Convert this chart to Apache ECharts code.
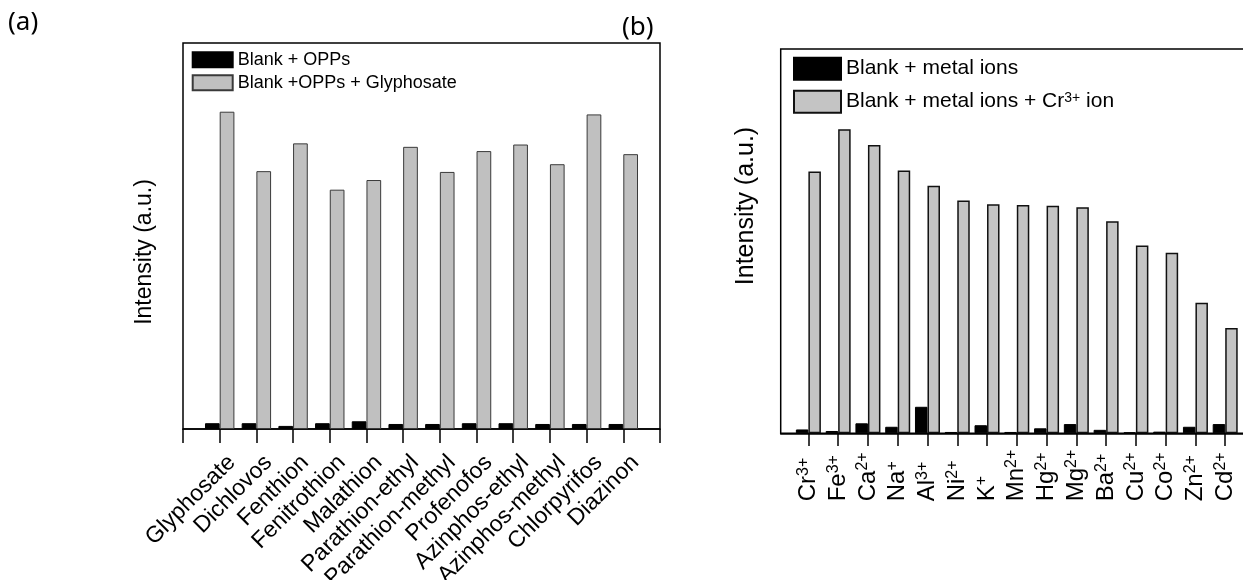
<!DOCTYPE html>
<html>
<head>
<meta charset="utf-8">
<script src="https://cdn.jsdelivr.net/npm/echarts@6/dist/echarts.min.js"></script>
<style>
  html, body { margin: 0; padding: 0; background: #fff; }
  #chart { width: 1243px; height: 580px; }
</style>
</head>
<body>
<div id="chart"></div>
<script>
// Panel (a): organophosphorus pesticides
const opsCategories = ['Glyphosate', 'Dichlovos', 'Fenthion', 'Fenitrothion', 'Malathion',
  'Parathion-ethyl', 'Parathion-methyl', 'Profenofos', 'Azinphos-ethyl', 'Azinphos-methyl',
  'Chlorpyrifos', 'Diazinon'];
const opsBlank = [1.5, 1.5, 0.8, 1.5, 2.0, 1.3, 1.3, 1.5, 1.5, 1.3, 1.3, 1.3];
const opsGlyphosate = [82.2, 66.8, 74.0, 62.0, 64.5, 73.1, 66.6, 72.0, 73.7, 68.6, 81.5, 71.2];

// Panel (b): metal ions
const ionSymbols = ['Cr', 'Fe', 'Ca', 'Na', 'Al', 'Ni', 'K', 'Mn', 'Hg', 'Mg', 'Ba', 'Cu', 'Co', 'Zn', 'Cd'];
const ionCharges = ['3+', '3+', '2+', '+', '3+', '2+', '+', '2+', '2+', '2+', '2+', '2+', '2+', '2+', '2+'];
const ionBlank = [1.0, 0.6, 2.6, 1.7, 6.9, 0.35, 2.1, 0.35, 1.3, 2.4, 0.9, 0.26, 0.43, 1.7, 2.4];
const ionCr = [68.1, 79.1, 75.0, 68.4, 64.4, 60.6, 59.6, 59.4, 59.2, 58.8, 55.2, 48.9, 47.0, 34.0, 27.4];

const legendA = ['Blank + OPPs', 'Blank +OPPs + Glyphosate'];
const legendB = ['Blank + metal ions', 'Blank + metal ions + Cr3+ ion'];

const FONT = "'Liberation Sans', Arial, sans-serif";
const idx = (n) => Array.from({ length: n }, (_, i) => i);

// Panel (a) axis has an empty slot at each end so the frame edges carry ticks.
const opsAxis = [''].concat(opsCategories, ['']);
const opsPairs = (vals) => vals.map((v, i) => [i + 1, v]);
const ionPairs = (vals) => vals.map((v, i) => [i, v]);

const chart = echarts.init(document.getElementById('chart'), null, { renderer: 'canvas' });

const option = {
  animation: false,
  backgroundColor: '#fff',
  grid: [
    { left: 183, top: 43, width: 477, height: 386, outerBoundsMode: 'none', containLabel: false,
      show: true, borderColor: '#000', borderWidth: 1.5, backgroundColor: 'transparent' },
    { left: 780.7, top: 49, width: 472.2, height: 384.3, outerBoundsMode: 'none', containLabel: false,
      show: true, borderColor: '#000', borderWidth: 1.5, backgroundColor: 'transparent' }
  ],
  xAxis: [
    {
      type: 'category', gridIndex: 0, data: opsAxis, boundaryGap: false,
      axisLine: { show: true, lineStyle: { color: '#000', width: 1.5 } },
      axisTick: { show: true, interval: 0, length: 14, inside: false, lineStyle: { color: '#000', width: 1.5 } },
      splitLine: { show: false },
      axisLabel: {
        interval: 0, hideOverlap: false,
        rotate: 45, align: 'right', verticalAlign: 'top', lineHeight: 34, margin: 18,
        fontFamily: FONT, fontSize: 23, color: '#000'
      }
    },
    {
      type: 'value', gridIndex: 1, min: -0.93, max: 14.93,
      axisLine: { show: true, lineStyle: { color: '#000', width: 1.5 } },
      axisTick: { show: true, length: 12.7, inside: false, customValues: idx(ionSymbols.length), lineStyle: { color: '#000', width: 1.5 } },
      splitLine: { show: false },
      axisLabel: {
        customValues: idx(ionSymbols.length),
        showMinLabel: true, showMaxLabel: true, hideOverlap: false,
        formatter: (v) => {
          const i = Math.round(v);
          return '{b|' + ionSymbols[i] + '}{s|' + ionCharges[i] + '}';
        },
        rotate: 90, align: 'left', verticalAlign: 'middle', margin: 68,
        rich: {
          b: { fontFamily: FONT, fontSize: 24, color: '#000', lineHeight: 26 },
          s: { fontFamily: FONT, fontSize: 16, color: '#000', lineHeight: 16, verticalAlign: 'top' }
        }
      }
    }
  ],
  yAxis: [
    { type: 'value', gridIndex: 0, min: 0, max: 100, axisLine: { show: false }, axisTick: { show: false }, axisLabel: { show: false }, splitLine: { show: false } },
    { type: 'value', gridIndex: 1, min: 0, max: 100, axisLine: { show: false }, axisTick: { show: false }, axisLabel: { show: false }, splitLine: { show: false } }
  ],
  legend: [
    {
      data: legendA, orient: 'vertical', left: 191.7, top: 50.7, padding: 0,
      itemWidth: 40, itemHeight: 15, itemGap: 5, icon: 'rect', selectedMode: false,
      textStyle: { fontFamily: FONT, fontSize: 18, color: '#000' }
    },
    {
      data: legendB, orient: 'vertical', left: 793, top: 56.7, padding: 0,
      itemWidth: 47, itemHeight: 22, itemGap: 9, icon: 'rect', selectedMode: false,
      formatter: (name) => name.indexOf('Cr3+') >= 0
        ? '{n|Blank + metal ions + Cr}{s|3+}{n| ion}'
        : '{n|' + name + '}',
      textStyle: {
        fontFamily: FONT, fontSize: 21, color: '#000',
        rich: {
          n: { fontFamily: FONT, fontSize: 21, color: '#000', lineHeight: 22 },
          s: { fontFamily: FONT, fontSize: 14, color: '#000', lineHeight: 12, verticalAlign: 'top' }
        }
      }
    }
  ],
  series: [
    {
      name: legendA[0], type: 'bar', xAxisIndex: 0, yAxisIndex: 0,
      data: opsPairs(opsBlank), barWidth: 14.7, barGap: '0%',
      itemStyle: { color: '#000', borderColor: '#000', borderWidth: 1 }
    },
    {
      name: legendA[1], type: 'bar', xAxisIndex: 0, yAxisIndex: 0,
      data: opsPairs(opsGlyphosate), barWidth: 14.7, barGap: '0%',
      itemStyle: { color: '#C0C0C0', borderColor: '#3a3a3a', borderWidth: 1 }
    },
    {
      name: legendB[0], type: 'bar', xAxisIndex: 1, yAxisIndex: 1,
      data: ionPairs(ionBlank), barWidth: 12.5, barGap: '0%',
      itemStyle: { color: '#000', borderColor: '#000', borderWidth: 1 }
    },
    {
      name: legendB[1], type: 'bar', xAxisIndex: 1, yAxisIndex: 1,
      data: ionPairs(ionCr), barWidth: 12.5, barGap: '0%',
      itemStyle: { color: '#C4C4C4', borderColor: '#111', borderWidth: 1.5 }
    }
  ],
  graphic: [
    { type: 'text', left: 8, top: 10, style: { text: '(a)', fontFamily: "'Noto Sans', sans-serif", fontSize: 26, fill: '#000' } },
    { type: 'text', left: 622, top: 15, style: { text: '(b)', fontFamily: "'Noto Sans', sans-serif", fontSize: 26, fill: '#000' } },
    {
      type: 'text', x: 145, y: 252, rotation: Math.PI / 2,
      style: { text: 'Intensity (a.u.)', fontFamily: FONT, fontSize: 23, fill: '#000', align: 'center', verticalAlign: 'middle' }
    },
    {
      type: 'text', x: 746, y: 206, rotation: Math.PI / 2,
      style: { text: 'Intensity (a.u.)', fontFamily: FONT, fontSize: 25, fill: '#000', align: 'center', verticalAlign: 'middle' }
    }
  ]
};

chart.setOption(option);
</script>
</body>
</html>
